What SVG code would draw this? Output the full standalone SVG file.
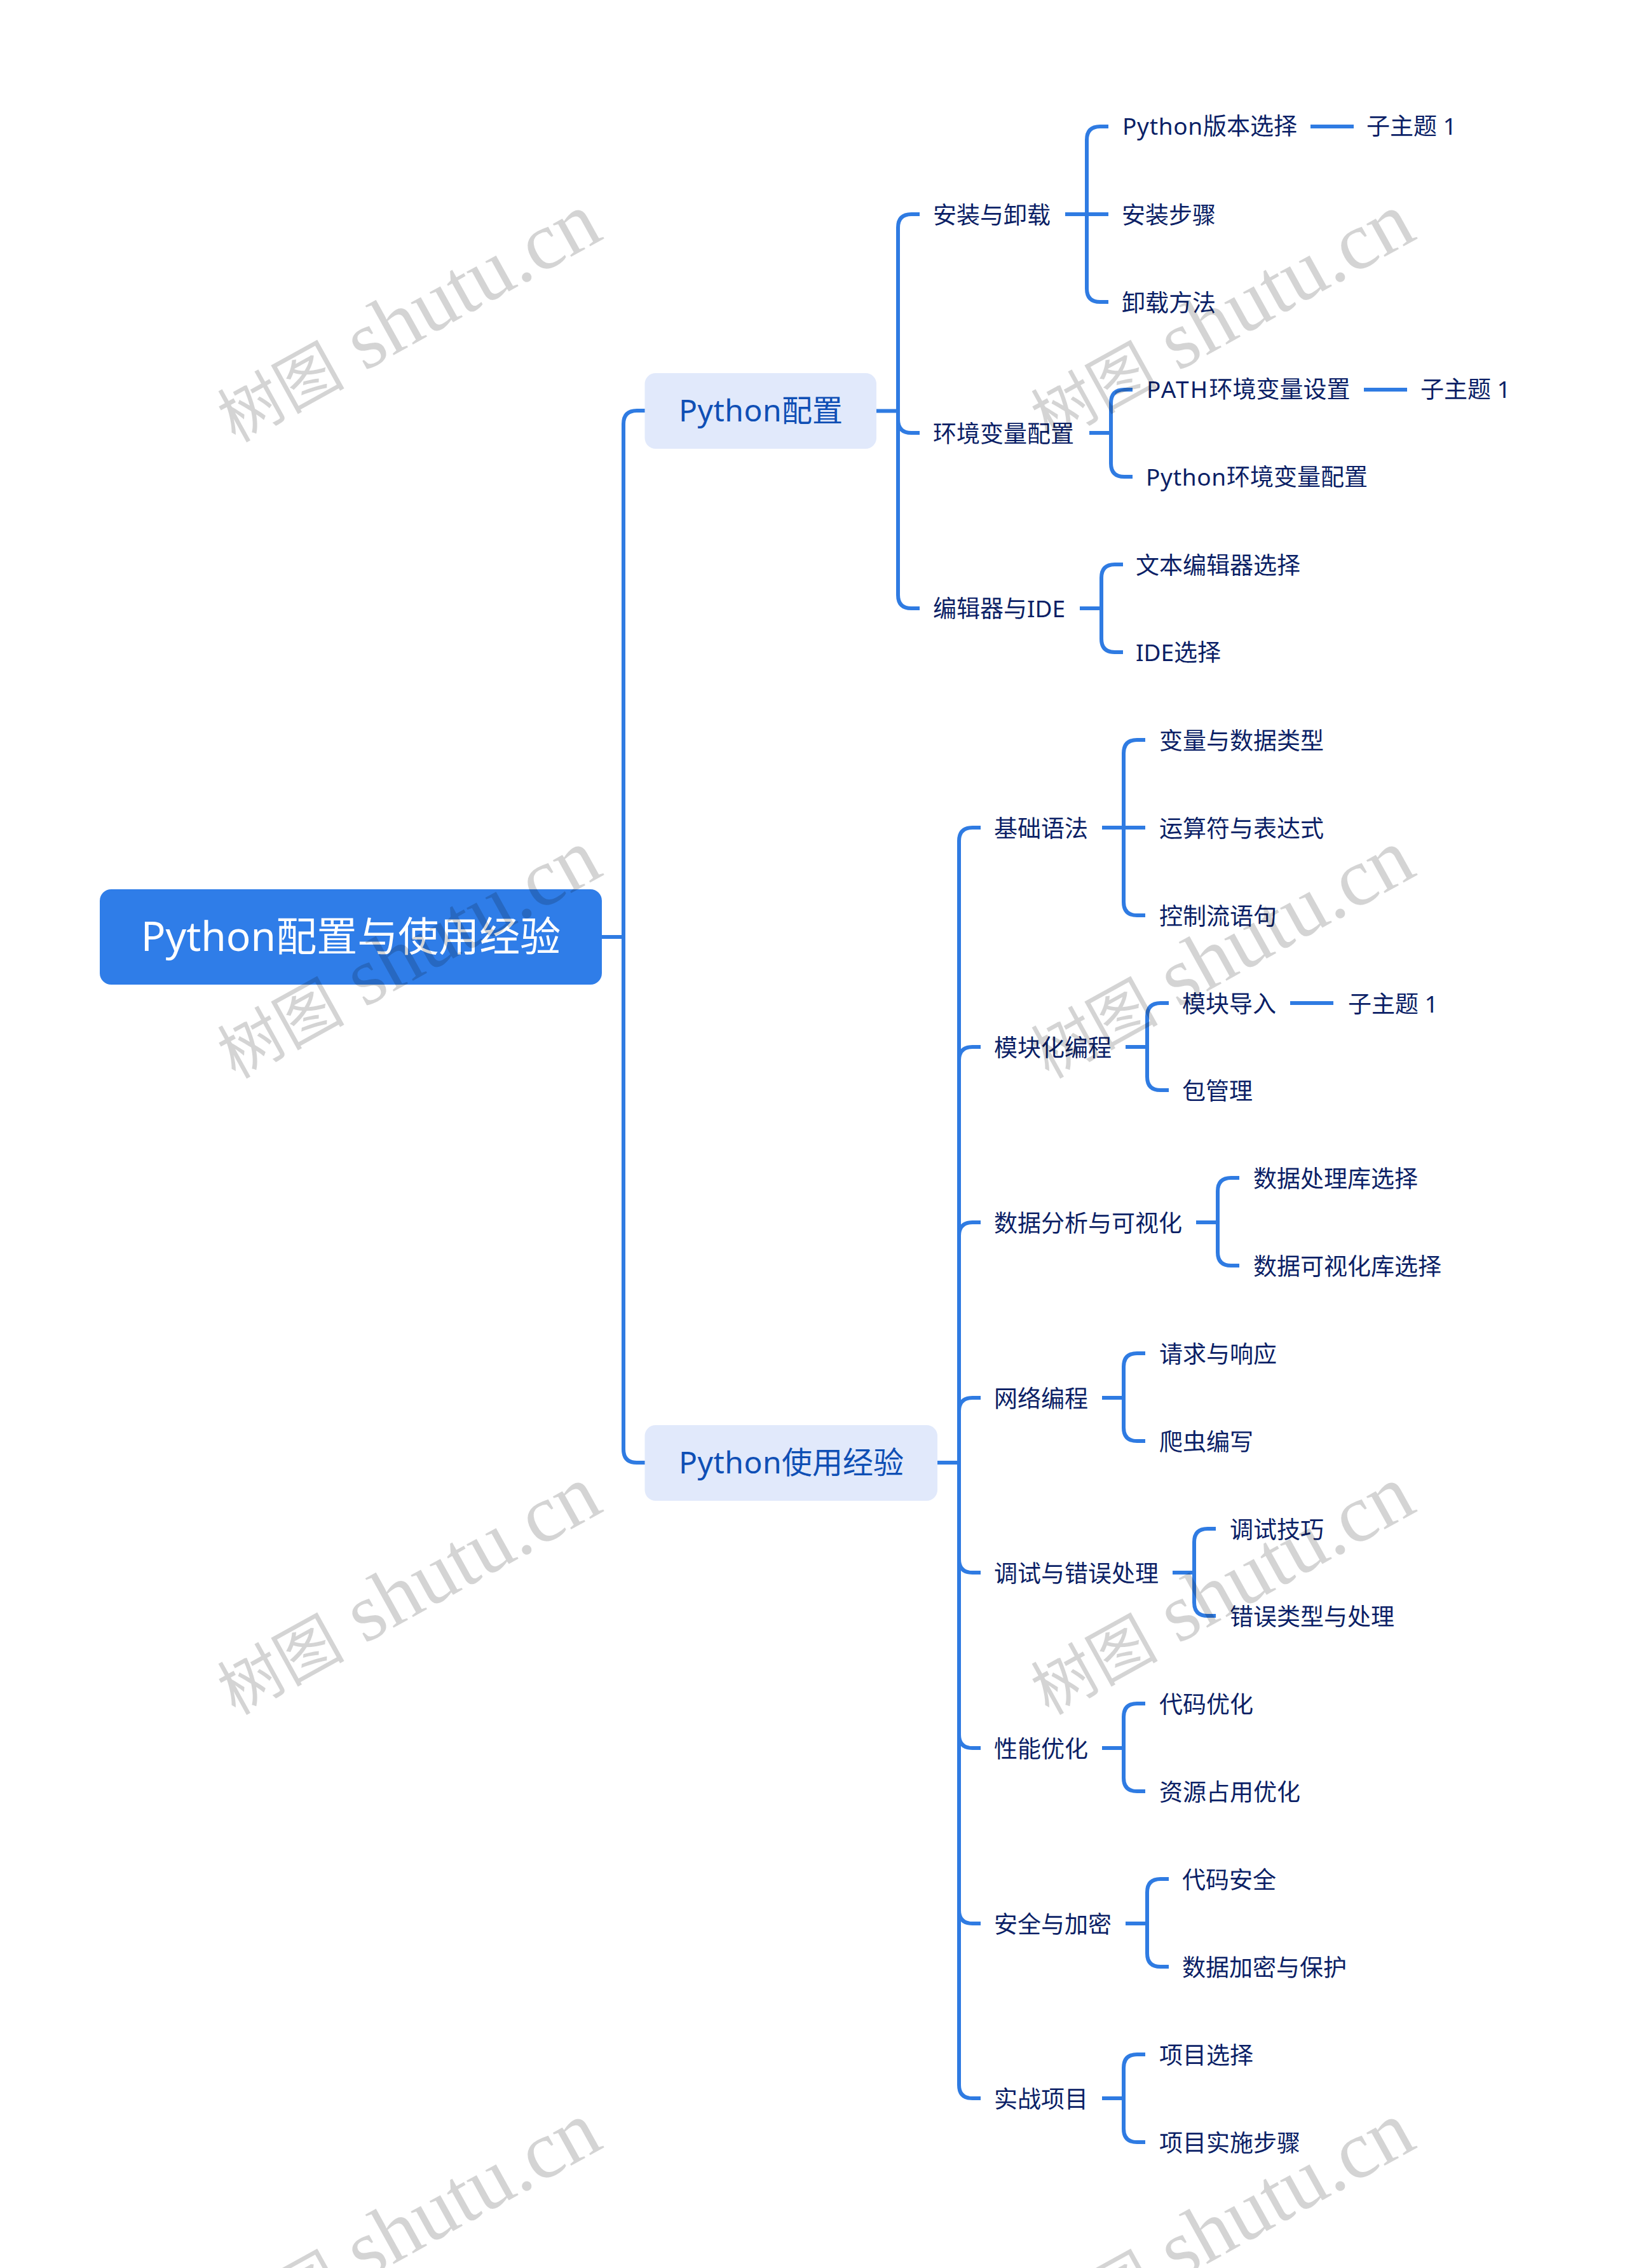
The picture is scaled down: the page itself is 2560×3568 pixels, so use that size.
<svg xmlns="http://www.w3.org/2000/svg" width="2560" height="3568" viewBox="0 0 2560 3568">
<style>
.c{fill:none;stroke:#2f7be2;stroke-width:6;stroke-linecap:butt}
text{font-family:"Noto Sans","Noto Sans CJK SC",sans-serif}
.t{font-size:37px;fill:#0b1f66}
.m{font-size:48px;fill:#0f4fb5;text-anchor:middle}
.r{font-size:64px;fill:#fff;text-anchor:middle}
.l{letter-spacing:.7px}
.p{letter-spacing:2.2px}
.b{letter-spacing:.5px}
.w{font-family:"Liberation Serif","Noto Sans CJK SC",serif;font-size:129px;fill:#000;fill-opacity:.17}
.wc{font-size:100px}
</style>
<defs><text id="wm" class="w"><tspan class="wc">树图</tspan> shutu.cn</text></defs>
<rect width="2560" height="3568" fill="#fff"/>
<g id="connectors">
<path class="c" d="M947 1474H981"/>
<path class="c" d="M981 1474V667Q981 646 1002 646H1015"/>
<path class="c" d="M981 1474V2280Q981 2301 1002 2301H1015"/>
<path class="c" d="M1379 646.500H1413"/>
<path class="c" d="M1413 646V358Q1413 337 1434 337H1447"/>
<path class="c" d="M1413 646V660Q1413 681 1434 681H1447"/>
<path class="c" d="M1413 646V936Q1413 957 1434 957H1447"/>
<path class="c" d="M1676 337H1744"/>
<path class="c" d="M1710 337V220Q1710 199 1731 199H1744"/>
<path class="c" d="M1710 337V454Q1710 475 1731 475H1744"/>
<path class="c" d="M2062 199H2130"/>
<path class="c" d="M1714 681H1748"/>
<path class="c" d="M1748 681V634Q1748 613 1769 613H1782"/>
<path class="c" d="M1748 681V729Q1748 750 1769 750H1782"/>
<path class="c" d="M2146 613H2214"/>
<path class="c" d="M1699 957H1733"/>
<path class="c" d="M1733 957V909Q1733 888 1754 888H1767"/>
<path class="c" d="M1733 957V1005Q1733 1026 1754 1026H1767"/>
<path class="c" d="M1475 2301H1509"/>
<path class="c" d="M1509 2301V1323Q1509 1302 1530 1302H1543"/>
<path class="c" d="M1509 2301V1668Q1509 1647 1530 1647H1543"/>
<path class="c" d="M1509 2301V1944Q1509 1923 1530 1923H1543"/>
<path class="c" d="M1509 2301V2220Q1509 2199 1530 2199H1543"/>
<path class="c" d="M1509 2301V2453Q1509 2474 1530 2474H1543"/>
<path class="c" d="M1509 2301V2729Q1509 2750 1530 2750H1543"/>
<path class="c" d="M1509 2301V3005Q1509 3026 1530 3026H1543"/>
<path class="c" d="M1509 2301V3280Q1509 3301 1530 3301H1543"/>
<path class="c" d="M1734 1302H1802"/>
<path class="c" d="M1768 1302V1185Q1768 1164 1789 1164H1802"/>
<path class="c" d="M1768 1302V1419Q1768 1440 1789 1440H1802"/>
<path class="c" d="M1771 1647H1805"/>
<path class="c" d="M1805 1647V1599Q1805 1578 1826 1578H1839"/>
<path class="c" d="M1805 1647V1694Q1805 1715 1826 1715H1839"/>
<path class="c" d="M2030 1578H2098"/>
<path class="c" d="M1882 1923H1916"/>
<path class="c" d="M1916 1923V1874Q1916 1853 1937 1853H1950"/>
<path class="c" d="M1916 1923V1970Q1916 1991 1937 1991H1950"/>
<path class="c" d="M1734 2199H1768"/>
<path class="c" d="M1768 2199V2150Q1768 2129 1789 2129H1802"/>
<path class="c" d="M1768 2199V2246Q1768 2267 1789 2267H1802"/>
<path class="c" d="M1845 2474H1879"/>
<path class="c" d="M1879 2474V2426Q1879 2405 1900 2405H1913"/>
<path class="c" d="M1879 2474V2521Q1879 2542 1900 2542H1913"/>
<path class="c" d="M1734 2750H1768"/>
<path class="c" d="M1768 2750V2701Q1768 2680 1789 2680H1802"/>
<path class="c" d="M1768 2750V2797Q1768 2818 1789 2818H1802"/>
<path class="c" d="M1771 3026H1805"/>
<path class="c" d="M1805 3026V2977Q1805 2956 1826 2956H1839"/>
<path class="c" d="M1805 3026V3073Q1805 3094 1826 3094H1839"/>
<path class="c" d="M1734 3301H1768"/>
<path class="c" d="M1768 3301V3253Q1768 3232 1789 3232H1802"/>
<path class="c" d="M1768 3301V3349Q1768 3370 1789 3370H1802"/>
</g>
<g id="root"><rect x="157" y="1399" width="790" height="150" rx="18" fill="#2f7de8"/><text class="r" x="552" y="1496">Python配置与使用经验</text></g>
<g id="n-p1"><rect x="1014.500" y="587" width="364.500" height="119" rx="17" fill="#e1e9fb"/><text class="m" x="1197" y="663"><tspan class="b">Python</tspan>配置</text></g>
<g id="n-p2"><rect x="1014.500" y="2242" width="460.500" height="119" rx="17" fill="#e1e9fb"/><text class="m" x="1245" y="2318"><tspan class="b">Python</tspan>使用经验</text></g>
<g id="labels" transform="translate(0 1.5)">
<g id="n-1"><text class="t" x="1468" y="350">安装与卸载</text></g>
<g id="n-1a"><text class="t" x="1766" y="210.500"><tspan class="l">Python</tspan>版本选择</text></g>
<g id="n-1a1"><text class="t" x="2150" y="210.500">子主题 1</text></g>
<g id="n-1b"><text class="t" x="1765" y="350">安装步骤</text></g>
<g id="n-1c"><text class="t" x="1765" y="488">卸载方法</text></g>
<g id="n-2"><text class="t" x="1468" y="694">环境变量配置</text></g>
<g id="n-2a"><text class="t" x="1804" y="624.500"><tspan class="p">PATH</tspan>环境变量设置</text></g>
<g id="n-2a1"><text class="t" x="2235" y="624.500">子主题 1</text></g>
<g id="n-2b"><text class="t" x="1803" y="762"><tspan class="l">Python</tspan>环境变量配置</text></g>
<g id="n-3"><text class="t" x="1468" y="969">编辑器与IDE</text></g>
<g id="n-3a"><text class="t" x="1787" y="901">文本编辑器选择</text></g>
<g id="n-3b"><text class="t" x="1787" y="1038">IDE选择</text></g>
<g id="n-4"><text class="t" x="1564" y="1315">基础语法</text></g>
<g id="n-4a"><text class="t" x="1824" y="1177">变量与数据类型</text></g>
<g id="n-4b"><text class="t" x="1824" y="1315">运算符与表达式</text></g>
<g id="n-4c"><text class="t" x="1824" y="1453">控制流语句</text></g>
<g id="n-5"><text class="t" x="1564" y="1660">模块化编程</text></g>
<g id="n-5a"><text class="t" x="1860" y="1591">模块导入</text></g>
<g id="n-5a1"><text class="t" x="2121" y="1591">子主题 1</text></g>
<g id="n-5b"><text class="t" x="1860" y="1728">包管理</text></g>
<g id="n-6"><text class="t" x="1564" y="1936">数据分析与可视化</text></g>
<g id="n-6a"><text class="t" x="1972" y="1866">数据处理库选择</text></g>
<g id="n-6b"><text class="t" x="1972" y="2004">数据可视化库选择</text></g>
<g id="n-7"><text class="t" x="1564" y="2212">网络编程</text></g>
<g id="n-7a"><text class="t" x="1824" y="2142">请求与响应</text></g>
<g id="n-7b"><text class="t" x="1824" y="2280">爬虫编写</text></g>
<g id="n-8"><text class="t" x="1564" y="2487">调试与错误处理</text></g>
<g id="n-8a"><text class="t" x="1935" y="2418">调试技巧</text></g>
<g id="n-8b"><text class="t" x="1935" y="2555">错误类型与处理</text></g>
<g id="n-9"><text class="t" x="1564" y="2763">性能优化</text></g>
<g id="n-9a"><text class="t" x="1824" y="2693">代码优化</text></g>
<g id="n-9b"><text class="t" x="1824" y="2831">资源占用优化</text></g>
<g id="n-10"><text class="t" x="1564" y="3039">安全与加密</text></g>
<g id="n-10a"><text class="t" x="1860" y="2969">代码安全</text></g>
<g id="n-10b"><text class="t" x="1860" y="3107">数据加密与保护</text></g>
<g id="n-11"><text class="t" x="1564" y="3314">实战项目</text></g>
<g id="n-11a"><text class="t" x="1824" y="3245">项目选择</text></g>
<g id="n-11b"><text class="t" x="1824" y="3383">项目实施步骤</text></g>
</g>
<g id="watermarks">
<use href="#wm" transform="translate(370 697) rotate(-29)"/>
<use href="#wm" transform="translate(1650 697) rotate(-29)"/>
<use href="#wm" transform="translate(370 1698) rotate(-29)"/>
<use href="#wm" transform="translate(1650 1698) rotate(-29)"/>
<use href="#wm" transform="translate(370 2699) rotate(-29)"/>
<use href="#wm" transform="translate(1650 2699) rotate(-29)"/>
<use href="#wm" transform="translate(370 3700) rotate(-29)"/>
<use href="#wm" transform="translate(1650 3700) rotate(-29)"/>
</g>
</svg>
